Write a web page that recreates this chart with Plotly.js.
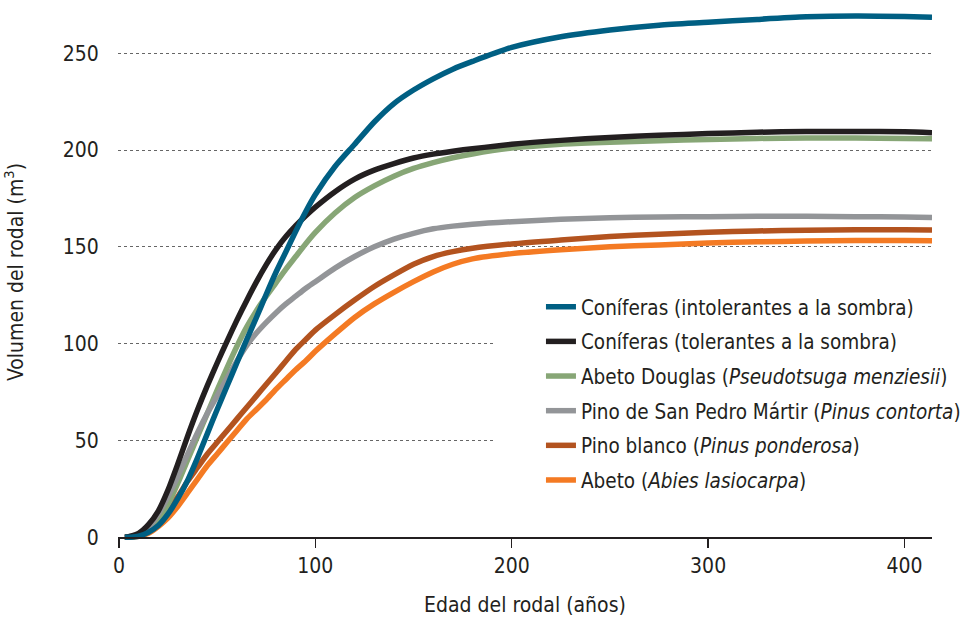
<!DOCTYPE html>
<html>
<head>
<meta charset="utf-8">
<script src="https://cdn.plot.ly/plotly-3.0.1.min.js"></script>
<style>
  html, body { margin: 0; padding: 0; background: #ffffff; }
  #chart { width: 962px; height: 621px; }
</style>
</head>
<body>
<div id="chart"></div>
<script>
// Stand age (years)
const age = [3, 6, 10, 15, 20, 25, 30, 35, 40, 45, 50, 55, 60, 65, 70, 75, 80, 85, 90, 95, 100, 110, 120, 130, 140, 150, 160, 170, 180, 200, 225, 250, 275, 300, 325, 350, 375, 400, 414];

// Stand volume (m3) by group
const intolerantes = [0, 0, 0.5, 2.5, 6, 12, 20, 29.5, 41, 53.5, 66, 78, 90, 102, 113.5, 125.5, 137, 147.5, 158, 168, 177, 191.5, 203, 214.5, 224, 231, 236.8, 241.8, 245.8, 253, 258.5, 262, 264.5, 266, 267.5, 268.8, 269.3, 269, 268.6];
const tolerantes = [0, 0.5, 2, 6.5, 13.5, 24.5, 38, 52.3, 65.8, 78.3, 90, 101.2, 112, 122.2, 131.9, 140.8, 148.7, 155.3, 160.9, 165.9, 170.5, 178.5, 185, 189.6, 193, 195.9, 197.9, 199.4, 200.7, 203, 205, 206.5, 207.6, 208.5, 209.2, 209.6, 209.6, 209.4, 209];
const douglas = [0, 0, 1, 4, 9, 17, 28, 40, 52, 64, 76, 87.5, 98.5, 108.5, 117, 124.5, 131.5, 138.5, 145, 151.5, 157.5, 167.5, 175.5, 181.5, 186.5, 190.5, 193.5, 196, 198, 201, 203, 204, 204.8, 205.5, 206, 206.2, 206.2, 206, 205.8];
const contorta = [0, 0.5, 1.5, 5, 12, 21, 31.5, 43, 54, 64, 73, 82, 91, 99, 105.5, 111, 116, 120.5, 124.5, 128.5, 132, 139, 145, 150, 154, 157, 159.3, 160.7, 161.7, 163, 164.2, 165, 165.4, 165.6, 165.8, 165.8, 165.6, 165.4, 165.2];
const ponderosa = [0, 0, 1, 3.5, 8, 14, 21, 29, 36, 43, 49, 55, 61, 67, 73, 79, 85, 91, 97, 102, 107, 115, 122.5, 129.5, 135.5, 141, 145, 147.5, 149.3, 151.5, 153.5, 155.3, 156.5, 157.5, 158.2, 158.6, 158.8, 158.8, 158.7];
const lasiocarpa = [0, 0, 0.5, 2, 5.5, 10, 16, 23, 30, 37, 43, 49, 55, 61, 66, 71, 76.5, 81.5, 86.5, 91, 96, 105, 113.5, 120.5, 126.5, 132, 137, 141, 143.8, 146.5, 148.5, 150, 151, 152, 152.6, 153, 153.3, 153.3, 153.2];

const seriesNames = [
  'Coníferas (intolerantes a la sombra)',
  'Coníferas (tolerantes a la sombra)',
  'Abeto Douglas (<i>Pseudotsuga menziesii</i>)',
  'Pino de San Pedro Mártir (<i>Pinus contorta</i>)',
  'Pino blanco (<i>Pinus ponderosa</i>)',
  'Abeto (<i>Abies lasiocarpa</i>)'
];
const seriesValues = [intolerantes, tolerantes, douglas, contorta, ponderosa, lasiocarpa];
const seriesColors = ['#005f83', '#231f20', '#87a676', '#939598', '#b3531f', '#f47a23'];
// drawing order (bottom to top)
const drawOrder = [5, 4, 2, 3, 1, 0];

const xTicks = [0, 100, 200, 300, 400];
const yTicks = [0, 50, 100, 150, 200, 250];
const xRange = [-0.5, 414];
const yRange = [-3, 277];

const FONT = '"Liberation Sans Narrow", "Arial Narrow", "DejaVu Sans Condensed", sans-serif';

const traces = drawOrder.map(i => ({
  type: 'scatter',
  mode: 'lines',
  x: age,
  y: seriesValues[i],
  name: seriesNames[i],
  legendgroup: 'g' + i,
  legendrank: i + 1,
  line: { color: seriesColors[i], width: 5.5, shape: 'spline', smoothing: 0.7 },
  hoverinfo: 'x+y+name'
}));

const layout = {
  width: 962,
  height: 621,
  margin: { l: 118, r: 30, t: 1, b: 78, autoexpand: false },
  paper_bgcolor: '#ffffff',
  plot_bgcolor: '#ffffff',
  font: { family: FONT, size: 21, color: '#231f20' },
  showlegend: true,
  legend: {
    x: 0.4631, xanchor: 'left',
    y: 0.4725, yanchor: 'top',
    bgcolor: '#ffffff',
    borderwidth: 0,
    indentation: 46,
    font: { family: FONT, size: 20.5, color: '#231f20' },
    itemwidth: 30,
    traceorder: 'grouped',
    tracegroupgap: 5
  },
  xaxis: {
    range: xRange,
    tickvals: xTicks,
    ticktext: xTicks.map(String),
    showgrid: false,
    zeroline: false,
    showline: true,
    linecolor: '#231f20',
    linewidth: 1.5,
    ticks: 'outside',
    ticklen: 9,
    tickwidth: 1.5,
    tickcolor: '#231f20',
    tickfont: { family: FONT, size: 21, color: '#231f20' },
    anchor: 'free',
    position: (0 - yRange[0]) / (yRange[1] - yRange[0]),
    title: { text: 'Edad del rodal (años)', font: { family: FONT, size: 21, color: '#231f20' }, standoff: 20 }
  },
  yaxis: {
    range: yRange,
    tickvals: yTicks,
    ticktext: yTicks.map(String),
    showgrid: true,
    gridcolor: '#666666',
    gridwidth: 1,
    griddash: 'dot',
    zeroline: false,
    showline: false,
    ticks: 'outside',
    ticklen: 14,
    tickcolor: 'rgba(0,0,0,0)',
    tickfont: { family: FONT, size: 21, color: '#231f20' },
    title: { text: 'Volumen del rodal (m<sup>3</sup>)', font: { family: FONT, size: 21, color: '#231f20' }, standoff: 36 }
  }
};

Plotly.newPlot('chart', traces, layout, { displayModeBar: false, staticPlot: true });
</script>
</body>
</html>
